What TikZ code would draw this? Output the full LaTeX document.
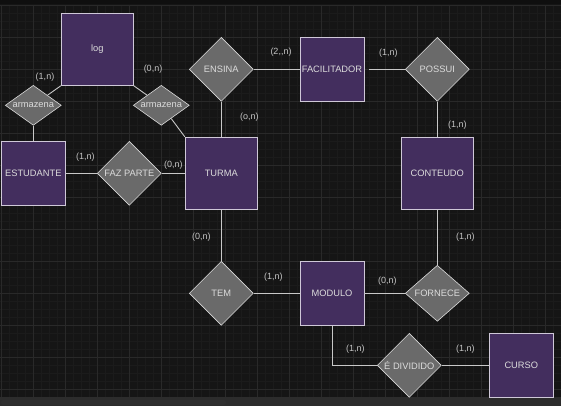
\documentclass[tikz,border=0pt]{standalone}
\usepackage{fontspec}
\setmainfont{Liberation Sans}
\usetikzlibrary{shapes.geometric}
\definecolor{bgc}{HTML}{151515}
\definecolor{topc}{HTML}{0F0F0F}
\definecolor{gmaj}{HTML}{292929}
\definecolor{gmin}{HTML}{1B1B1B}
\definecolor{entfill}{HTML}{432E5E}
\definecolor{entdraw}{HTML}{CFC8D8}
\definecolor{relfill}{HTML}{6A6A6A}
\definecolor{linec}{HTML}{C8C8C8}
\definecolor{txtc}{HTML}{DCDCDC}
\definecolor{cardc}{HTML}{C4C4C4}
\definecolor{scrollc}{HTML}{2F2F2F}
\begin{document}
\begin{tikzpicture}[x=1pt,y=-1pt,
  entity/.style={rectangle,draw=entdraw,fill=entfill,line width=0.9pt,inner sep=0pt,
    text=txtc,font=\fontsize{9.3}{10}\selectfont},
  rel/.style={diamond,draw=white!85!black,fill=relfill,line width=0.6pt,inner sep=0pt,
    minimum width=64pt,minimum height=64pt},
  rtext/.style={text=txtc,font=\fontsize{9.3}{10}\selectfont},
  card/.style={text=cardc,font=\fontsize{9}{10}\selectfont,inner sep=0pt},
  conn/.style={draw=linec,line width=0.9pt}]
\useasboundingbox (0,0) rectangle (561,406);
\fill[bgc] (0,0) rectangle (561,406);
\fill[topc] (0,0) rectangle (561,4.5);
% grid
\foreach \i in {0,...,69} {\draw[gmin,line width=0.5pt] (1.3+8*\i,5) -- (1.3+8*\i,397);}
\foreach \j in {0,...,48} {\draw[gmin,line width=0.5pt] (0,5.3+8*\j) -- (561,5.3+8*\j);}
\foreach \i in {0,...,17} {\draw[gmaj,line width=0.8pt] (1.3+32*\i,5) -- (1.3+32*\i,397);}
\foreach \j in {0,...,12} {\draw[gmaj,line width=0.8pt] (0,5.3+32*\j) -- (561,5.3+32*\j);}
\fill[bgc!90!white] (0,397) rectangle (561,406);
\fill[scrollc,rounded corners=2pt] (1,400) rectangle (226,405);
% entities
\node[entity,minimum width=72pt,minimum height=72pt] (log) at (97.3,49.3) {log};
\node[entity,minimum width=64pt,minimum height=64pt] (est) at (33.3,173.3) {ESTUDANTE};
\node[entity,minimum width=72pt,minimum height=72pt] (turma) at (221.3,173.3) {TURMA};
\node[entity,minimum width=64pt,minimum height=64pt] (fac) at (332,69.3) {FACILITADOR};
\node[entity,minimum width=72pt,minimum height=72pt] (cont) at (437.3,173.3) {CONTEUDO};
\node[entity,minimum width=64pt,minimum height=64pt] (mod) at (332,293.3) {MODULO};
\node[entity,minimum width=64pt,minimum height=64pt] (curso) at (521.3,365.3) {CURSO};
% relationships
\node[rel,minimum width=56pt,minimum height=40pt,label={[rtext]center:armazena}] (armL) at (33.3,105.3) {};
\node[rel,minimum width=56pt,minimum height=40pt,label={[rtext]center:armazena}] (armR) at (161.3,105.3) {};
\node[rel,label={[rtext]center:ENSINA}] (ensina) at (221.3,69.3) {};
\node[rel,label={[rtext]center:FAZ PARTE}] (faz) at (129.3,173.3) {};
\node[rel,label={[rtext]center:POSSUI}] (possui) at (437.3,69.3) {};
\node[rel,label={[rtext]center:TEM}] (tem) at (221.3,293.3) {};
\node[rel,minimum height=56pt,label={[rtext]center:FORNECE}] (forn) at (437.3,293.3) {};
\node[rel,label={[rtext]center:É DIVIDIDO}] (div) at (409.3,365.3) {};
% connectors
\draw[conn] (log.south west) -- (armL);
\draw[conn] (armL.south) -- (est.north);
\draw[conn] (log.south east) -- (armR);
\draw[conn] (armR) -- (turma.north west);
\draw[conn] (est.east) -- (faz.west);
\draw[conn] (faz.east) -- (turma.west);
\draw[conn] (ensina.south) -- (turma.north);
\draw[conn] (ensina.east) -- (fac.west);
\draw[conn,shorten <=5pt] (fac.east) -- (possui.west);
\draw[conn] (possui.south) -- (cont.north);
\draw[conn] (turma.south) -- (tem.north);
\draw[conn] (tem.east) -- (mod.west);
\draw[conn] (cont.south) -- (forn.north);
\draw[conn] (mod.east) -- (forn.west);
\draw[conn] (mod.south) |- (div.west);
\draw[conn] (div.east) -- (curso.west);
% cardinalities
\node[card] (c1) at (45,77.3) {(1,n)};
\node[card] (c2) at (153,69.3) {(0,n)};
\node[card] (c3) at (281,52.3) {(2{,}{,}n)};
\node[card] (c4) at (249.3,117.3) {(o,n)};
\node[card] (c5) at (85.3,156.7) {(1,n)};
\node[card] (c6) at (173.3,164.7) {(0,n)};
\node[card] (c7) at (388.3,52.7) {(1,n)};
\node[card] (c8) at (457.3,125) {(1,n)};
\node[card] (c9) at (201.3,236.7) {(0,n)};
\node[card] (c10) at (273.3,277) {(1,n)};
\node[card] (c11) at (465.3,236.7) {(1,n)};
\node[card] (c12) at (387.3,280.7) {(0,n)};
\node[card] (c13) at (355.3,348.7) {(1,n)};
\node[card] (c14) at (465.3,348.7) {(1,n)};
\end{tikzpicture}
\end{document}
